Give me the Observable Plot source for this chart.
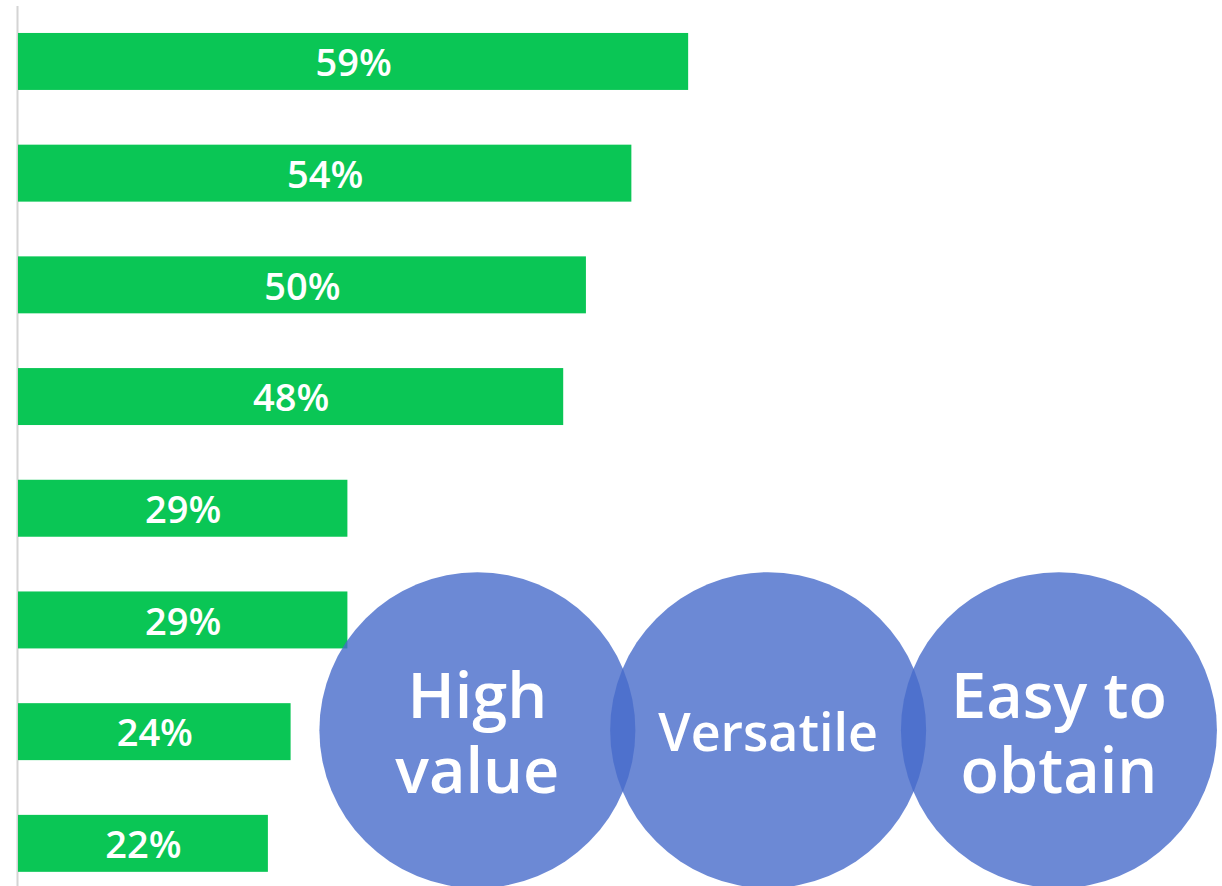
<!DOCTYPE html>
<html><head><meta charset="utf-8">
<script src="https://cdn.jsdelivr.net/npm/d3@7"></script>
<script src="https://cdn.jsdelivr.net/npm/@observablehq/plot@0.6"></script>
<style>html,body{margin:0;padding:0;background:#fff;overflow:hidden}</style>
</head><body><div id="chart"></div>
<script>
const categories = ["Item 1","Item 2","Item 3","Item 4","Item 5","Item 6","Item 7","Item 8"];
const values = [59, 54, 50, 48, 29, 29, 24, 22];
const circleLabels = ["High\nvalue", "Versatile", "Easy to\nobtain"];
const circleCenters = [40.4, 66.0, 91.6];
const circleRow = "Item 7";

const bars = categories.map((c, i) => ({category: c, value: values[i]}));
const circles = circleLabels.map((l, i) => ({label: l, x: circleCenters[i], row: circleRow}));

const chart = Plot.plot({
  width: 1222,
  height: 886,
  marginLeft: 18,
  marginRight: 0,
  marginTop: 6,
  marginBottom: 0,
  x: {domain: [0, 106], axis: null},
  y: {domain: categories, range: [5.6, 899.2], padding: 0.49, paddingOuter: 0.245, round: false, axis: null},
  marks: [
    Plot.ruleX([0], {stroke: "#d4d4d4", strokeWidth: 2, dx: -1}),
    Plot.barX(bars, {x: "value", y: "category", fill: "#0AC655"}),
    Plot.text(bars, {x: d => d.value / 2, y: "category", text: d => `${d.value}%`, fill: "white",
      fontSize: 38, fontWeight: 600, fontFamily: "Open Sans", dy: 2}),
    Plot.dot(circles, {x: "x", y: "row", r: 158, fill: "#476CCB", fillOpacity: 0.8, stroke: "none", dy: -2}),
    Plot.text(circles, {x: "x", y: "row", text: "label", fill: "white", fontFamily: "Open Sans", fontWeight: 600,
      fontSize: d => d.label === "Versatile" ? 52 : 63, lineHeight: 1.19, dy: -1})
  ]
});
document.getElementById("chart").appendChild(chart);
</script>
</body></html>
